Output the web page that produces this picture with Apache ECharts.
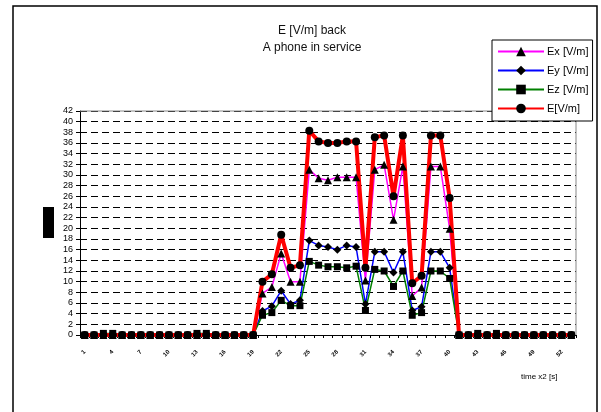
<!DOCTYPE html>
<html>
<head>
<meta charset="utf-8">
<script src="https://cdn.jsdelivr.net/npm/echarts@6/dist/echarts.min.js"></script>
<style>html,body{margin:0;padding:0;background:#fff}#c{width:601px;height:412px}</style>
</head>
<body>
<div id="c"></div>
<script>
// categories: time x2 [s]
const categories = [];
for (let i = 1; i <= 53; i++) categories.push(String(i));

const seriesNames = ['Ex [V/m]', 'Ey [V/m]', 'Ez [V/m]', 'E[V/m]'];

const exValues = [0,0,0,0,0,0,0,0,0,0,0,0,0,0,0,0,0,0,0,
  7.8, 9, 15.3, 10, 10, 31, 29.4, 29, 29.6, 29.6, 29.6, 10.2, 31, 31.9, 21.6, 31.6, 7.3, 8.9, 31.6, 31.6, 19.9,
  0,0,0,0,0,0,0,0,0,0,0,0,0];
const eyValues = [0,0,0,0,0,0,0,0,0,0,0,0,0,0,0,0,0,0,0,
  4.5, 5.4, 8.3, 5.8, 6.5, 17.7, 16.8, 16.5, 16, 16.8, 16.5, 5.8, 15.6, 15.6, 11.7, 15.6, 4.6, 5.3, 15.6, 15.6, 12.6,
  0,0,0,0,0,0,0,0,0,0,0,0,0];
const ezValues = [0,0,0.3,0.3,0,0,0,0,0,0,0,0,0.3,0.3,0,0,0,0,0,
  3.7, 4.2, 6.5, 5.5, 5.5, 13.8, 13.1, 12.8, 12.8, 12.6, 12.9, 4.6, 12.3, 12, 9.1, 12, 3.7, 4.2, 12, 12, 10.6,
  0,0,0.3,0,0.3,0,0,0,0,0,0,0,0];
const eValues = [0,0,0,0,0,0,0,0,0,0,0,0,0,0,0,0,0,0,0,
  10, 11.4, 18.8, 12.6, 13.1, 38.3, 36.3, 36, 36, 36.3, 36.3, 12.6, 37.1, 37.4, 26, 37.4, 9.7, 11.1, 37.4, 37.4, 25.7,
  0,0,0,0,0,0,0,0,0,0,0,0,0];

const yTicks = { min: 0, max: 42, interval: 2 };

const chart = echarts.init(document.getElementById('c'), null, { renderer: 'canvas' });
const FONT = 'Liberation Sans, Arial, sans-serif';

function lineSeries(name, data, color, width, symbol, size) {
  return {
    name, type: 'line', data,
    symbol, symbolSize: size,
    showSymbol: true, showAllSymbol: true,
    itemStyle: { color: '#000' },
    lineStyle: { color, width },
    emphasis: { disabled: true },
    animation: false
  };
}

chart.setOption({
  animation: false,
  backgroundColor: '#fff',
  title: {
    text: 'E [V/m] back\nA phone in service',
    left: 307, top: 17, textAlign: 'center',
    textStyle: { fontFamily: FONT, fontSize: 12, fontWeight: 'normal', color: '#111', lineHeight: 17 }
  },
  legend: {
    data: seriesNames,
    orient: 'vertical',
    left: 492, top: 40,
    padding: [6, 4, 7, 5],
    itemGap: 8, itemWidth: 46, itemHeight: 12,
    backgroundColor: '#fff', borderColor: '#000', borderWidth: 1,
    textStyle: { fontFamily: FONT, fontSize: 11, color: '#000', padding: [0, 0, 0, -2] }
  },
  grid: { left: 80, right: 25, top: 111, bottom: 77, containLabel: false },
  xAxis: {
    type: 'category', data: categories, boundaryGap: true,
    axisLine: { lineStyle: { color: '#000', width: 1 } },
    axisTick: { show: true, interval: 0, length: 3, lineStyle: { color: '#000' } },
    axisLabel: { interval: 2, rotate: 45, fontSize: 6, fontWeight: 'bold', color: '#000', margin: 16, fontFamily: FONT },
    splitLine: { show: false }
  },
  yAxis: {
    type: 'value', min: yTicks.min, max: yTicks.max, interval: yTicks.interval,
    axisLine: { show: true, lineStyle: { color: '#000', width: 1 } },
    axisTick: { show: true, length: 4, lineStyle: { color: '#000' } },
    axisLabel: { fontSize: 9, color: '#000', margin: 7, fontFamily: FONT },
    splitLine: { show: true, lineStyle: { color: '#000', width: 1, type: [7, 4] } }
  },
  graphic: [
    { type: 'rect', shape: { x: 13, y: 6, width: 584, height: 420 }, style: { fill: 'none', stroke: '#000', lineWidth: 1.5 }, z: -1 },
    { type: 'polyline', shape: { points: [[80, 111], [576, 111], [576, 335]] }, style: { fill: 'none', stroke: '#888', lineWidth: 1 }, z: 1 },
    { type: 'rect', shape: { x: 43, y: 207, width: 11, height: 31 }, style: { fill: '#000' }, z: 1 },
    { type: 'text', x: 521, y: 373, style: { text: 'time x2 [s]', font: '8px ' + FONT, fill: '#000' }, z: 1 }
  ],
  series: [
    lineSeries(seriesNames[0], exValues, '#ff00ff', 1.5, 'triangle', 8),
    lineSeries(seriesNames[1], eyValues, '#0000ff', 1.5, 'diamond', 8),
    lineSeries(seriesNames[2], ezValues, '#008000', 1.5, 'rect', 7),
    lineSeries(seriesNames[3], eValues, '#ff0000', 4, 'circle', 8)
  ]
});
</script>
</body>
</html>
